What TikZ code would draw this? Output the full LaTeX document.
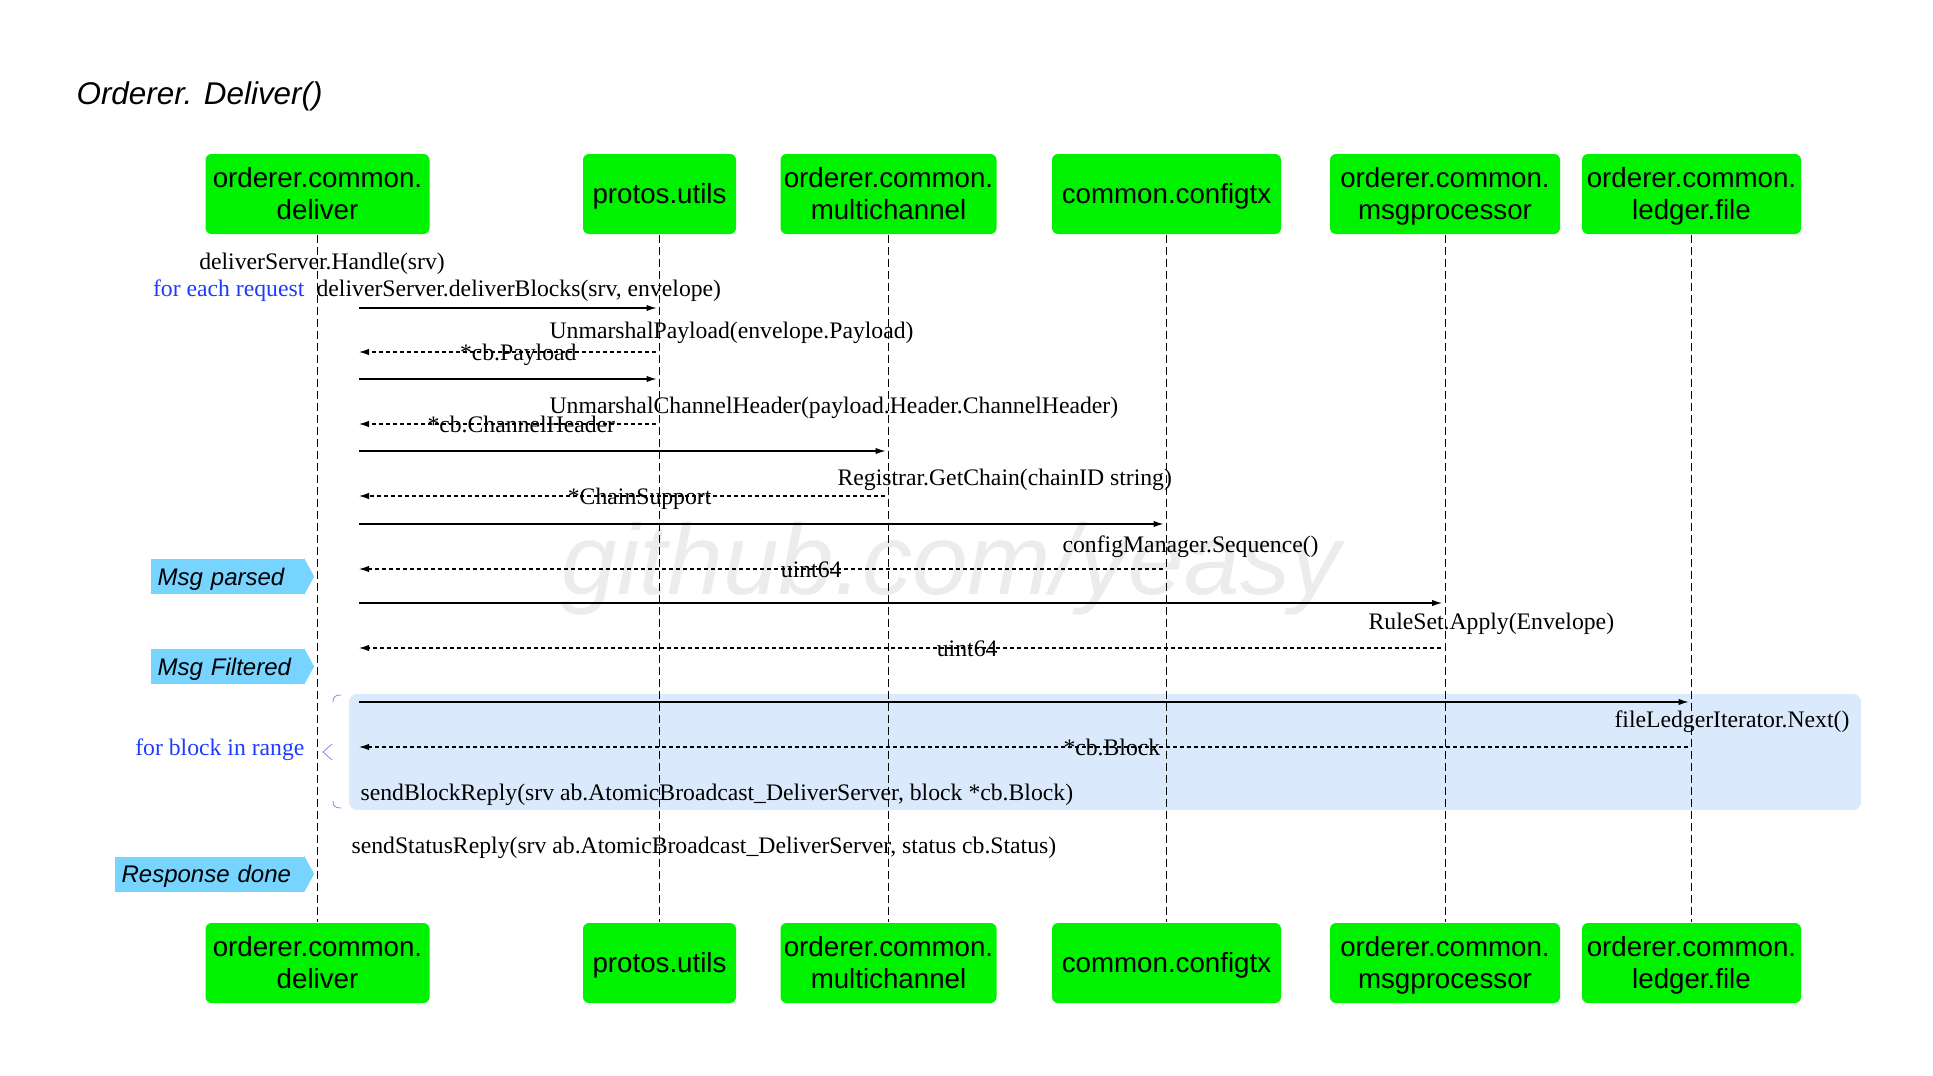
\documentclass[tikz,border=0pt]{standalone}
\usepackage{fontspec}
\setmainfont{Liberation Serif}
\setsansfont{Liberation Sans}
\usepackage{xcolor}
\usepackage{tikz}
\usetikzlibrary{arrows.meta, positioning, calc}
\definecolor{boxgreen}{RGB}{0,242,0}
\definecolor{tagblue}{RGB}{119,212,255}
\definecolor{loopblue}{RGB}{218,234,252}
\definecolor{notecol}{RGB}{30,60,255}
\definecolor{markgray}{RGB}{236,236,236}

\begin{document}
\begin{tikzpicture}[x=0.5pt, y=-0.5pt, >={Latex[length=5pt,width=3.2pt]}, line width=0.6pt,
  actor/.style={fill=boxgreen, rounded corners=3pt, minimum height=40pt, inner sep=0pt,
    align=center, text height=12.5pt, text depth=2.8pt,
    font=\sffamily\fontsize{13.85}{16}\selectfont},
  actortwo/.style={actor, text height=28.5pt, text depth=2.8pt},
  lifeline/.style={line width=0.5pt, dash pattern=on 4pt off 2pt},
  call/.style={->, shorten >=1.5pt},
  reply/.style={->, dash pattern=on 2pt off 1.5pt, shorten <=2pt},
  msg/.style={inner sep=0pt, text height=10.8pt, text depth=2.4pt,
    font=\fontsize{11.85}{14}\selectfont},
  note/.style={msg, text=notecol},
  tagbox/.style={fill=tagblue, minimum height=17.5pt, inner xsep=3.5pt, inner ysep=0pt,
    text height=11.1pt, text depth=2.5pt,
    align=left, anchor=west, font=\sffamily\itshape\fontsize{12}{14}\selectfont}]
  \useasboundingbox (0,0) rectangle (1933,1076);

  % watermark and loop frame
  \node[text=markgray, anchor=base, inner sep=0pt,
    font=\sffamily\itshape\fontsize{50}{60}\selectfont] (mark) at (951,594) {github.com/yeasy};
  \node[fill=loopblue, rounded corners=4pt, minimum width=756pt, minimum height=58pt,
    inner sep=0pt] (loopbox) at (1105,752) {};

  \node[anchor=base west, inner sep=0pt, font=\sffamily\itshape\fontsize{15.7}{18}\selectfont]
    (title) at (76,104.5) {Orderer. Deliver()};

  % participants
  \node[actortwo, minimum width=112pt] (dTop) at (317.5,194) {orderer.common.\\deliver};
  \node[actor, minimum width=76.5pt]   (uTop) at (659.5,194) {protos.utils};
  \node[actortwo, minimum width=108pt] (mTop) at (888.5,194) {orderer.common.\\multichannel};
  \node[actor, minimum width=114.5pt]  (cTop) at (1166.5,194) {common.configtx};
  \node[actortwo, minimum width=115pt] (pTop) at (1445,194) {orderer.common.\\msgprocessor};
  \node[actortwo, minimum width=109.5pt] (lTop) at (1691.5,194) {orderer.common.\\ledger.file};

  \node[actortwo, minimum width=112pt] (dBot) at (317.5,963) {orderer.common.\\deliver};
  \node[actor, minimum width=76.5pt]   (uBot) at (659.5,963) {protos.utils};
  \node[actortwo, minimum width=108pt] (mBot) at (888.5,963) {orderer.common.\\multichannel};
  \node[actor, minimum width=114.5pt]  (cBot) at (1166.5,963) {common.configtx};
  \node[actortwo, minimum width=115pt] (pBot) at (1445,963) {orderer.common.\\msgprocessor};
  \node[actortwo, minimum width=109.5pt] (lBot) at (1691.5,963) {orderer.common.\\ledger.file};

  \draw[lifeline] (dTop) -- (dBot);
  \draw[lifeline] (uTop) -- (uBot);
  \draw[lifeline] (mTop) -- (mBot);
  \draw[lifeline] (cTop) -- (cBot);
  \draw[lifeline] (pTop) -- (pBot);
  \draw[lifeline] (lTop) -- (lBot);

  % request
  \node[msg] (handle) at (322,261) {deliverServer.Handle(srv)};
  \node[note, anchor=east] (eachReq) at (305,288) {for each request};
  \node[msg, anchor=west] (blocks) at (316,288) {deliverServer.deliverBlocks(srv, envelope)};

  % calls and replies
  \coordinate (r1) at (359,308);
  \coordinate (r2) at (359,352);
  \coordinate (r3) at (359,379);
  \coordinate (r4) at (359,424);
  \coordinate (r5) at (359,451);
  \coordinate (r6) at (359,496);
  \coordinate (r7) at (359,524);
  \coordinate (r8) at (359,569);
  \coordinate (r9) at (359,603);
  \coordinate (r10) at (359,648);
  \coordinate (r11) at (359,702);
  \coordinate (r12) at (359,747);

  \draw[call] (r1) -- (r1 -| uTop);
  \node[msg, anchor=west] (unPay) at (549,330) {UnmarshalPayload(envelope.Payload)};
  \draw[reply] (r2 -| uTop) -- (r2) node[msg, pos=.47] (retPay) {*cb.Payload};

  \draw[call] (r3) -- (r3 -| uTop);
  \node[msg, anchor=west] (unHdr) at (549,405) {UnmarshalChannelHeader(payload.Header.ChannelHeader)};
  \draw[reply] (r4 -| uTop) -- (r4) node[msg, pos=.46] (retHdr) {*cb.ChannelHeader};

  \draw[call] (r5) -- (r5 -| mTop);
  \node[msg, anchor=west] (getChain) at (837,477) {Registrar.GetChain(chainID string)};
  \draw[reply] (r6 -| mTop) -- (r6) node[msg, pos=.47] (retChain) {*ChainSupport};

  \draw[call] (r7) -- (r7 -| cTop);
  \node[msg, anchor=west] (seq) at (1062,544) {configManager.Sequence()};
  \draw[reply] (r8 -| cTop) -- (r8) node[msg, pos=.44] (retSeq) {uint64};

  \draw[call] (r9) -- (r9 -| pTop);
  \node[msg, anchor=west] (apply) at (1368,621) {RuleSet.Apply(Envelope)};
  \draw[reply] (r10 -| pTop) -- (r10) node[msg, pos=.44] (retApply) {uint64};

  % loop over blocks
  \draw[call] (r11) -- (r11 -| lTop);
  \node[msg, anchor=east] (next) at (1850,719) {fileLedgerIterator.Next()};
  \draw[reply] (r12 -| lTop) -- (r12) node[msg, pos=.435] (retBlock) {*cb.Block};
  \node[msg, anchor=west] (blockReply) at (360,792)
    {sendBlockReply(srv ab.AtomicBroadcast\_DeliverServer, block *cb.Block)};
  \node[note, anchor=east] (inRange) at (305,747) {for block in range};
  \draw[notecol!60, line width=0.4pt] (341,695) .. controls (335,695) and (333,697) .. (333,702);
  \draw[notecol!60, line width=0.4pt] (332,744) -- (323,752) -- (332,760);
  \draw[notecol!60, line width=0.4pt] (333,801) .. controls (333,806) and (335,808) .. (341,808);

  \node[msg, anchor=west] (statusReply) at (351,845)
    {sendStatusReply(srv ab.AtomicBroadcast\_DeliverServer, status cb.Status)};

  % stage tags
  \node[tagbox, text width=69.5pt] (parsed) at (150,576.5) {Msg parsed};
  \fill[tagblue] (parsed.north east) -- ($(parsed.east)+(10,0)$) -- (parsed.south east) -- cycle;
  \node[tagbox, text width=69.5pt] (filtered) at (150,666.5) {Msg Filtered};
  \fill[tagblue] (filtered.north east) -- ($(filtered.east)+(10,0)$) -- (filtered.south east) -- cycle;
  \node[tagbox, text width=87.5pt] (done) at (114,874) {Response done};
  \fill[tagblue] (done.north east) -- ($(done.east)+(10,0)$) -- (done.south east) -- cycle;
\end{tikzpicture}
\end{document}
